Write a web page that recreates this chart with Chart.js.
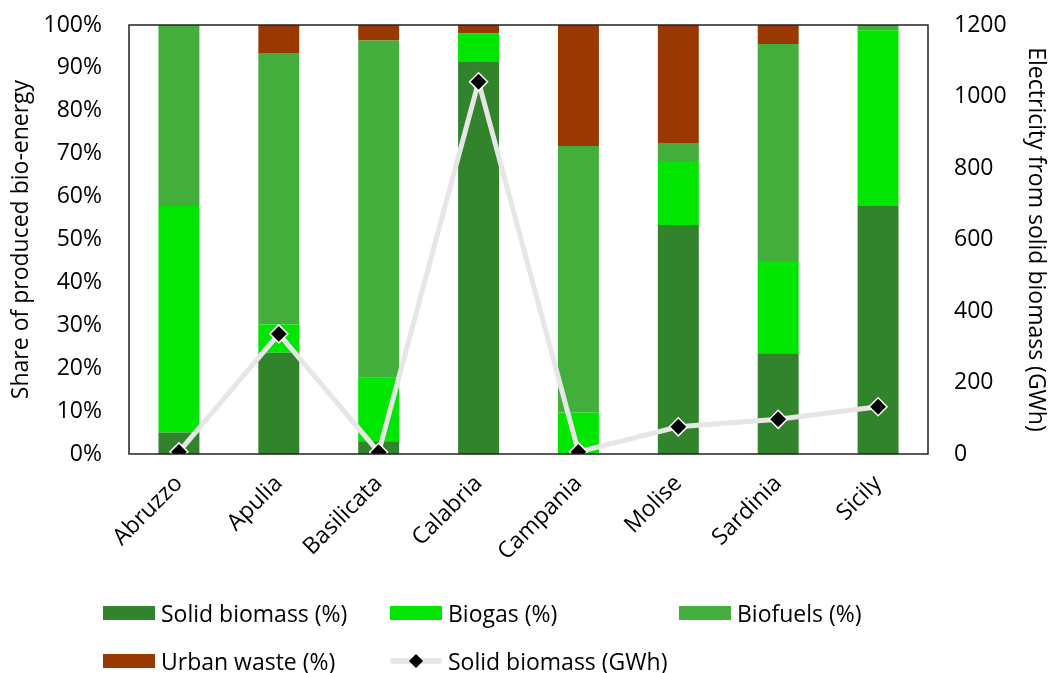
<!DOCTYPE html>
<html>
<head>
<meta charset="utf-8">
<script src="https://cdn.jsdelivr.net/npm/chart.js@4"></script>
<style>
  body { margin: 0; background: #fff; font-family: "Open Sans", sans-serif; }
  #wrap { position: relative; width: 1049px; height: 673px; }
  .item { position: absolute; display: flex; align-items: center; font-size: 23px; color: #000; height: 30px; white-space: nowrap; }
  .box { width: 52px; height: 14px; margin-right: 6px; }
  .lineKey { position: relative; width: 52px; height: 14px; margin-right: 6px; }
  .lineKey .bar { position: absolute; left: 0; top: 4px; width: 52px; height: 6px; background: #e6e6e6; border-radius: 3px; }
  .lineKey .dia { position: absolute; left: 21px; top: 2px; width: 10px; height: 10px; background: #000; transform: rotate(45deg); }
</style>
</head>
<body>
<div id="wrap">
  <canvas id="myChart" width="1049" height="673"></canvas>
</div>
<script>
const regions = ['Abruzzo', 'Apulia', 'Basilicata', 'Calabria', 'Campania', 'Molise', 'Sardinia', 'Sicily'];
const solidBiomass = [5.0, 23.6, 3.0, 91.4, 0, 53.4, 23.5, 57.8];
const biogas = [52.8, 6.6, 14.8, 6.6, 9.7, 14.9, 21.5, 41.0];
const biofuels = [42.2, 63.3, 78.6, 0, 62.1, 4.2, 50.6, 1.2];
const urbanWaste = [0, 6.5, 3.6, 2.0, 28.2, 27.5, 4.4, 0];
const solidBiomassGWh = [6, 336, 5, 1041, 6, 76, 97, 132];

const colours = {
  solid: '#31842c',
  biogas: '#00e600',
  biofuels: '#44ae3c',
  urban: '#993800',
  line: '#e6e6e6'
};

const font = { family: 'Open Sans', size: 23 };

// box around the plot area
const frame = {
  id: 'frame',
  afterDraw(chart) {
    const a = chart.chartArea;
    const ctx = chart.ctx;
    ctx.save();
    ctx.strokeStyle = '#222';
    ctx.lineWidth = 1.5;
    ctx.strokeRect(a.left, a.top, a.right - a.left, a.bottom - a.top);
    ctx.restore();
  }
};

const datasets = [
  {
    type: 'line',
    label: 'Solid biomass (GWh)',
    data: solidBiomassGWh,
    yAxisID: 'y2',
    borderColor: colours.line,
    borderWidth: 5,
    pointStyle: 'rectRot',
    pointRadius: 9,
    pointBackgroundColor: '#000',
    pointBorderColor: '#fff',
    pointBorderWidth: 1.5,
    tension: 0,
    order: 0
  },
  { label: 'Solid biomass (%)', data: solidBiomass, backgroundColor: colours.solid, stack: 's', order: 1 },
  { label: 'Biogas (%)', data: biogas, backgroundColor: colours.biogas, stack: 's', order: 1 },
  { label: 'Biofuels (%)', data: biofuels, backgroundColor: colours.biofuels, stack: 's', order: 1 },
  { label: 'Urban waste (%)', data: urbanWaste, backgroundColor: colours.urban, stack: 's', order: 1 }
];

new Chart(document.getElementById('myChart'), {
  type: 'bar',
  data: { labels: regions, datasets: datasets },
  options: {
    responsive: false,
    animation: false,
    layout: { padding: { top: 25, left: 0, right: 0, bottom: 0 } },
    datasets: { bar: { barPercentage: 0.41, categoryPercentage: 1 } },
    plugins: { legend: { display: false }, tooltip: { enabled: false } },
    scales: {
      x: {
        stacked: true,
        grid: { display: false },
        border: { display: false },
        ticks: { color: '#000', font: font, minRotation: 45, maxRotation: 45, padding: 8 },
        afterFit(s) { s.height = 673 - 454; }
      },
      y: {
        stacked: true,
        min: 0, max: 100,
        grid: { display: false, drawTicks: false },
        border: { display: false },
        ticks: { stepSize: 10, color: '#000', font: font, padding: 27, callback: v => v + '%' },
        title: { display: true, text: 'Share of produced bio-energy', color: '#000', font: font, padding: { top: 8, bottom: 0 } },
        afterFit(s) { s.width = 129; s.paddingTop = 0; s.paddingBottom = 0; }
      },
      y2: {
        position: 'right',
        min: 0, max: 1200,
        grid: { display: false, drawTicks: false },
        border: { display: false },
        ticks: { stepSize: 200, color: '#000', font: font, padding: 26, callback: v => String(v) },
        title: { display: true, text: 'Electricity from solid biomass (GWh)', color: '#000', font: font, padding: { top: 0, bottom: 0 } },
        afterFit(s) { s.width = 1049 - 928; s.paddingTop = 0; s.paddingBottom = 0; }
      }
    }
  },
  plugins: [frame]
});

// legend in three columns, two rows, like the original
const legendItems = [
  { text: 'Solid biomass (%)', colour: colours.solid },
  { text: 'Biogas (%)', colour: colours.biogas },
  { text: 'Biofuels (%)', colour: colours.biofuels },
  { text: 'Urban waste (%)', colour: colours.urban },
  { text: 'Solid biomass (GWh)', line: true }
];
const colX = [103, 390, 679];
const rowY = [613, 661];
const wrap = document.getElementById('wrap');
legendItems.forEach((it, i) => {
  const item = document.createElement('div');
  item.className = 'item';
  item.style.left = colX[i % 3] + 'px';
  item.style.top = (rowY[Math.floor(i / 3)] - 15) + 'px';
  const key = document.createElement('div');
  if (it.line) {
    key.className = 'lineKey';
    key.innerHTML = '<div class="bar"></div><div class="dia"></div>';
  } else {
    key.className = 'box';
    key.style.background = it.colour;
  }
  item.appendChild(key);
  item.appendChild(document.createTextNode(it.text));
  wrap.appendChild(item);
});
</script>
</body>
</html>
